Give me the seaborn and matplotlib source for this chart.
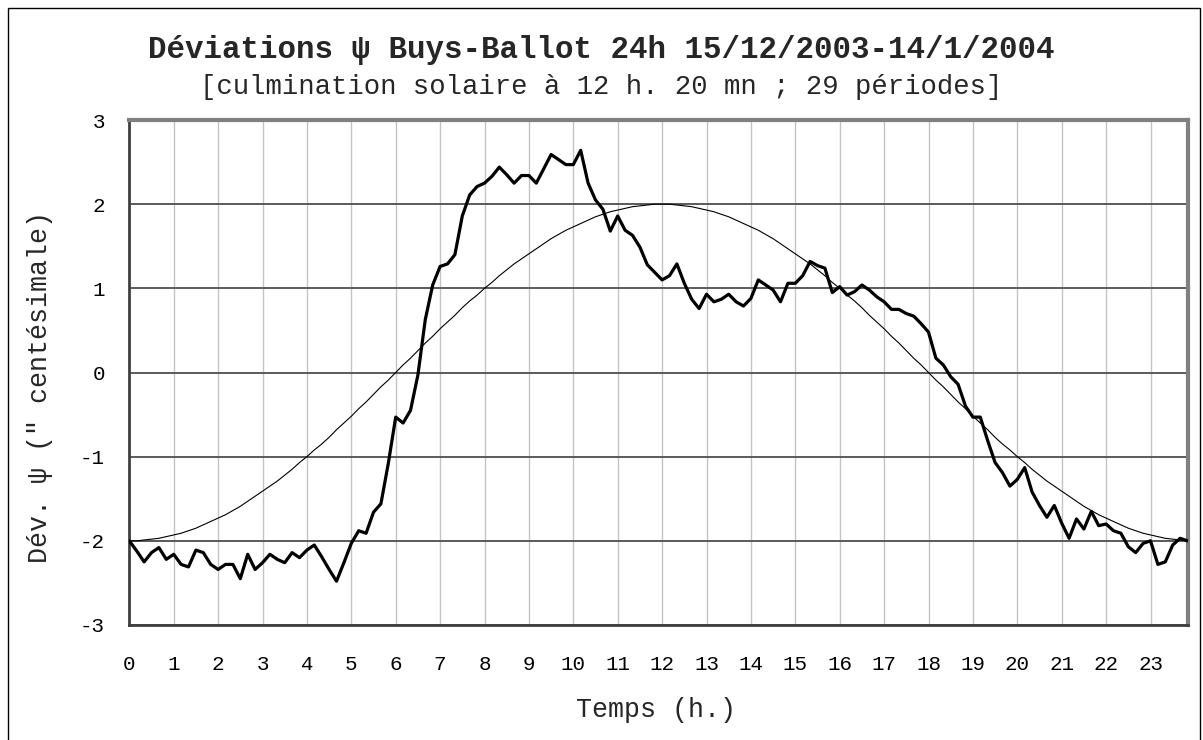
import numpy as np
import pandas as pd
import matplotlib
matplotlib.use("Agg")
import matplotlib.pyplot as plt
import seaborn as sns
from matplotlib.patches import Rectangle

# Time grid: one value every 10 minutes over the day (hours)
minutes = np.arange(0, 1440, 10)
heures = minutes / 60

# Buys-Ballot mean deviation of psi (centesimal seconds)
deviation = [
    -2.00, -2.12, -2.25, -2.14, -2.08, -2.22, -2.16, -2.28, -2.31, -2.11,
    -2.14, -2.28, -2.34, -2.28, -2.28, -2.45, -2.16, -2.34, -2.26, -2.16,
    -2.22, -2.26, -2.14, -2.20, -2.11, -2.05, -2.19, -2.34, -2.48, -2.26,
    -2.03, -1.88, -1.91, -1.66, -1.56, -1.08, -0.53, -0.60, -0.45, -0.03,
    0.63, 1.04, 1.26, 1.29, 1.40, 1.86, 2.11, 2.21, 2.25, 2.33,
    2.44, 2.35, 2.25, 2.34, 2.34, 2.25, 2.42, 2.59, 2.53, 2.47,
    2.47, 2.64, 2.25, 2.05, 1.94, 1.68, 1.86, 1.69, 1.63, 1.49,
    1.28, 1.19, 1.10, 1.15, 1.29, 1.06, 0.87, 0.76, 0.93, 0.84,
    0.87, 0.93, 0.84, 0.79, 0.88, 1.10, 1.04, 0.98, 0.84, 1.06,
    1.06, 1.15, 1.32, 1.27, 1.24, 0.95, 1.02, 0.92, 0.96, 1.04,
    0.98, 0.90, 0.84, 0.75, 0.75, 0.70, 0.67, 0.58, 0.48, 0.17,
    0.09, -0.05, -0.14, -0.40, -0.53, -0.53, -0.81, -1.07, -1.19, -1.35,
    -1.27, -1.13, -1.42, -1.58, -1.72, -1.58, -1.79, -1.97, -1.74, -1.86,
    -1.65, -1.82, -1.80, -1.88, -1.91, -2.07, -2.14, -2.03, -2.00, -2.28,
    -2.25, -2.05, -1.97, -2.00,
]

# Reference sinusoid (amplitude 2, maximum at noon)
sinusoide = [
    -2.00, -2.00, -1.99, -1.98, -1.97, -1.95, -1.93, -1.91, -1.88, -1.85,
    -1.81, -1.77, -1.73, -1.69, -1.64, -1.59, -1.53, -1.47, -1.41, -1.35,
    -1.29, -1.22, -1.15, -1.07, -1.00, -0.92, -0.85, -0.77, -0.68, -0.60,
    -0.52, -0.43, -0.35, -0.26, -0.17, -0.09, 0.00, 0.09, 0.17, 0.26,
    0.35, 0.43, 0.52, 0.60, 0.68, 0.77, 0.85, 0.92, 1.00, 1.07,
    1.15, 1.22, 1.29, 1.35, 1.41, 1.47, 1.53, 1.59, 1.64, 1.69,
    1.73, 1.77, 1.81, 1.85, 1.88, 1.91, 1.93, 1.95, 1.97, 1.98,
    1.99, 2.00, 2.00, 2.00, 1.99, 1.98, 1.97, 1.95, 1.93, 1.91,
    1.88, 1.85, 1.81, 1.77, 1.73, 1.69, 1.64, 1.59, 1.53, 1.47,
    1.41, 1.35, 1.29, 1.22, 1.15, 1.07, 1.00, 0.92, 0.85, 0.77,
    0.68, 0.60, 0.52, 0.43, 0.35, 0.26, 0.17, 0.09, 0.00, -0.09,
    -0.17, -0.26, -0.35, -0.43, -0.52, -0.60, -0.68, -0.77, -0.85, -0.92,
    -1.00, -1.07, -1.15, -1.22, -1.29, -1.35, -1.41, -1.47, -1.53, -1.59,
    -1.64, -1.69, -1.73, -1.77, -1.81, -1.85, -1.88, -1.91, -1.93, -1.95,
    -1.97, -1.98, -1.99, -2.00,
]

x_ticks = list(range(24))
y_ticks = list(range(-3, 4))

titre = "Déviations ψ Buys-Ballot 24h 15/12/2003-14/1/2004"
sous_titre = "[culmination solaire à 12 h. 20 mn ; 29 périodes]"

sns.set_style("white")
plt.rcParams["font.family"] = ["Liberation Mono", "DejaVu Sans Mono"]
plt.rcParams["axes.unicode_minus"] = False

df = pd.DataFrame({"Temps": heures, "Deviation": deviation, "Sinusoide": sinusoide})

fig = plt.figure(figsize=(12.03, 7.40), dpi=100)
W, H = 1203.0, 740.0
left, right, top, bottom = 129.3, 1187.5, 120.0, 625.0
ax = fig.add_axes([left / W, 1 - bottom / H, (right - left) / W, (bottom - top) / H])

sns.lineplot(data=df, x="Temps", y="Sinusoide", ax=ax, color="black",
             linewidth=0.8, zorder=3)
sns.lineplot(data=df, x="Temps", y="Deviation", ax=ax, color="black",
             linewidth=2.3, zorder=4)

ax.set_xlim(0, heures[-1])
ax.set_ylim(-3, 3)
ax.set_xticks(x_ticks)
ax.set_xticklabels([str(t) for t in x_ticks])
ax.set_yticks(y_ticks)
ax.set_yticklabels([str(v) for v in y_ticks])
ax.set_xlabel("")
ax.set_ylabel("")

ax.set_axisbelow(True)
ax.grid(axis="x", color="#c4c4c4", linewidth=1.0)
ax.grid(axis="y", color="#5a5a5a", linewidth=1.4)

for side in ("left", "bottom"):
    ax.spines[side].set_color("#404040")
    ax.spines[side].set_linewidth(2.0)
for side in ("top", "right"):
    ax.spines[side].set_color("#808080")
    ax.spines[side].set_linewidth(3.0)
    ax.spines[side].set_visible(True)

ax.tick_params(axis="both", direction="out", length=6.5, width=1.0,
               color="#303030", labelsize=15, labelcolor="black")
ax.tick_params(axis="x", pad=15)
ax.tick_params(axis="y", pad=11)

fig.text(0.5, 1 - 50 / H, titre, ha="center", va="center",
         fontsize=22.2, fontweight="bold")
fig.text(0.5, 1 - 87 / H, sous_titre, ha="center", va="center", fontsize=19.6)
fig.text(656 / W, 1 - 710 / H, "Temps (h.)", ha="center", va="center",
         fontsize=19.2)
fig.text(40 / W, 1 - 387 / H, "Dév. ψ (\" centésimale)", ha="center",
         va="center", rotation=90, fontsize=19.2)

# Outer frame of the chart
fig.add_artist(Rectangle((8 / W, -0.05), (1200 - 8) / W, 1.05 - 8 / H,
                         transform=fig.transFigure, fill=False,
                         edgecolor="black", linewidth=1.0))

fig.savefig("out.png", dpi=100)
